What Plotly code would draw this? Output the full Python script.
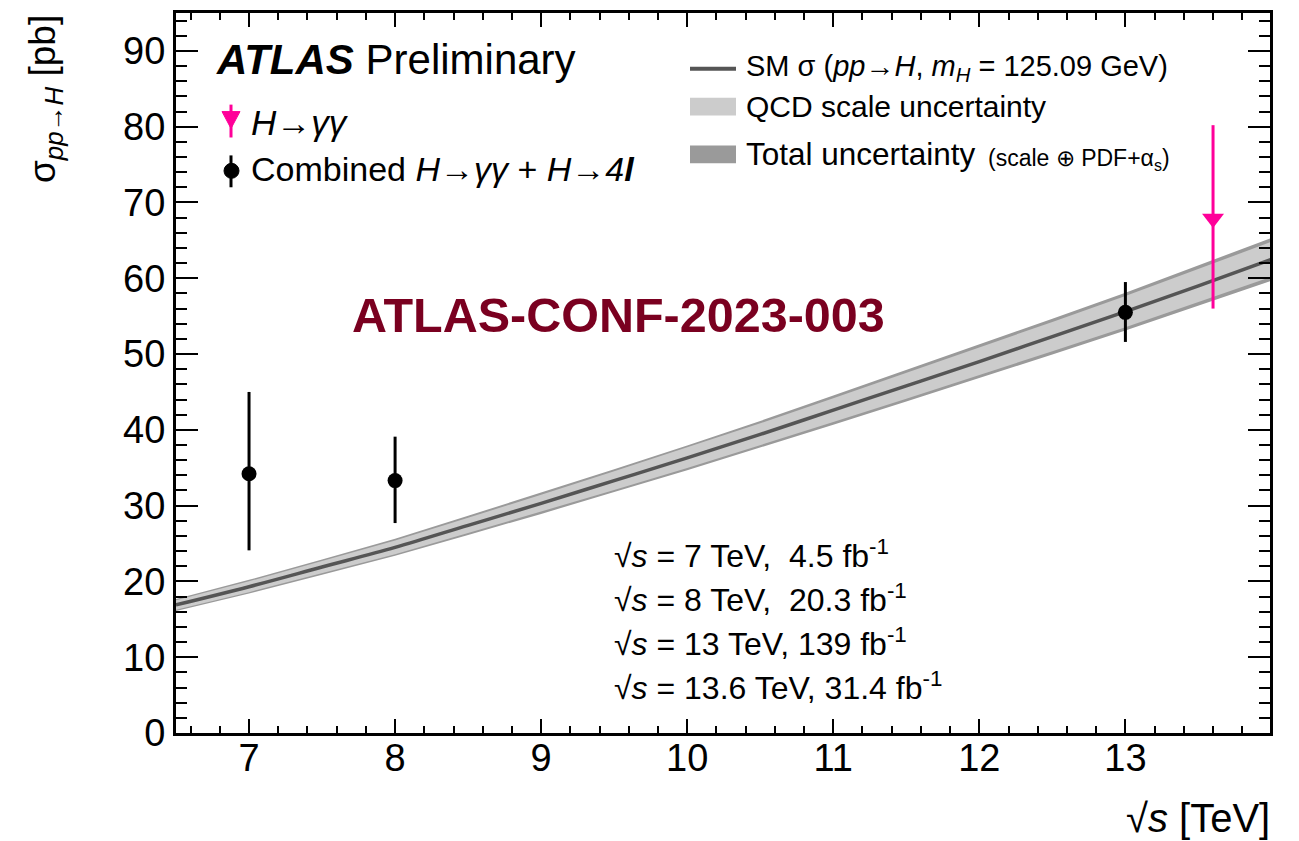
import plotly.graph_objects as go
import numpy as np

# ---------------- data ----------------
# SM prediction sigma(pp->H), mH = 125.09 GeV  [pb]
sm_sqrts = [6.5, 7.0, 7.5, 8.0, 8.5, 9.0, 9.5, 10.0, 10.5, 11.0, 11.5, 12.0, 12.5, 13.0, 13.5, 14.0]
sm_sigma = [16.9, 19.3, 21.9, 24.5, 27.4, 30.3, 33.3, 36.3, 39.4, 42.6, 45.8, 49.0, 52.3, 55.6, 59.0, 62.5]
# relative uncertainties [%]
scale_unc_pct = [3.7, 3.7, 3.7, 3.7, 3.7, 3.7, 3.7, 3.7, 3.7, 3.7, 3.7, 3.7, 3.7, 3.7, 3.7, 3.7]
total_unc_pct = [4.7, 4.7, 4.6, 4.6, 4.6, 4.6, 4.5, 4.5, 4.5, 4.5, 4.5, 4.5, 4.5, 4.5, 4.5, 4.5]

# Combined H->gg + H->4l measurements
comb_sqrts = [7.0, 8.0, 13.0]
comb_sigma = [34.2, 33.3, 55.5]
comb_err_up = [10.8, 5.8, 4.0]
comb_err_dn = [10.1, 5.6, 3.9]

# H->gamma gamma at 13.6 TeV
gg_sqrts = [13.6]
gg_sigma = [67.9]
gg_err_up = [12.3]
gg_err_dn = [11.9]

energy_lines = [
    "√<i>s</i> = 7 TeV,\u00a0\u00a04.5 fb<sup>-1</sup>",
    "√<i>s</i> = 8 TeV,\u00a0\u00a020.3 fb<sup>-1</sup>",
    "√<i>s</i> = 13 TeV, 139 fb<sup>-1</sup>",
    "√<i>s</i> = 13.6 TeV, 31.4 fb<sup>-1</sup>",
]

x_range = [6.5, 13.99]
y_range = [0, 95]

# ---------------- layout geometry (pixels) ----------------
W, H = 1299, 841
L, R, T, B = 176, 29, 10, 108
PW, PH = W - L - R, H - T - B


def px(x):
    return (x - L) / PW


def py(y):
    return (H - B - y) / PH


FONT = "Liberation Sans, Arial, Helvetica, sans-serif"
MAGENTA = "#ff0099"
DARK = "#555555"
LIGHT_BAND = "#cccccc"
DARK_BAND = "#9a9a9a"

sm = np.array(sm_sigma)
xs = np.array(sm_sqrts)
tot_hi = sm * (1 + np.array(total_unc_pct) / 100)
tot_lo = sm * (1 - np.array(total_unc_pct) / 100)
sc_hi = sm * (1 + np.array(scale_unc_pct) / 100)
sc_lo = sm * (1 - np.array(scale_unc_pct) / 100)

fig = go.Figure()

fig.add_trace(go.Scatter(
    x=np.concatenate([xs, xs[::-1]]), y=np.concatenate([tot_hi, tot_lo[::-1]]),
    fill="toself", fillcolor=DARK_BAND, line=dict(width=0), mode="lines",
    hoverinfo="skip", showlegend=False))
fig.add_trace(go.Scatter(
    x=np.concatenate([xs, xs[::-1]]), y=np.concatenate([sc_hi, sc_lo[::-1]]),
    fill="toself", fillcolor=LIGHT_BAND, line=dict(width=0), mode="lines",
    hoverinfo="skip", showlegend=False))
fig.add_trace(go.Scatter(
    x=xs, y=sm, mode="lines", line=dict(color=DARK, width=3.5, shape="spline"),
    showlegend=False))

fig.add_trace(go.Scatter(
    x=comb_sqrts, y=comb_sigma, mode="markers",
    marker=dict(symbol="circle", size=15, color="black"),
    error_y=dict(type="data", symmetric=False, array=comb_err_up, arrayminus=comb_err_dn,
                 thickness=3, width=0, color="black"),
    showlegend=False))

fig.add_trace(go.Scatter(
    x=gg_sqrts, y=gg_sigma, mode="markers",
    marker=dict(symbol="triangle-down", size=19, color=MAGENTA),
    error_y=dict(type="data", symmetric=False, array=gg_err_up, arrayminus=gg_err_dn,
                 thickness=3, width=0, color=MAGENTA),
    showlegend=False))

shapes = []
annotations = []


def text(xp, yp, s, size, color="black", xanchor="left", yanchor="middle", angle=0):
    annotations.append(dict(
        x=px(xp), y=py(yp), xref="paper", yref="paper", text=s, showarrow=False,
        xanchor=xanchor, yanchor=yanchor, textangle=angle,
        font=dict(family=FONT, size=size, color=color)))


# ATLAS label
text(214, 57, "<b><i>ATLAS</i></b> Preliminary", 42)

# left legend
shapes.append(dict(type="line", xref="paper", yref="paper",
                   x0=px(231), x1=px(231), y0=py(102), y1=py(135),
                   line=dict(color=MAGENTA, width=3)))
shapes.append(dict(type="path", xref="paper", yref="paper",
                   path=f"M {px(222)},{py(109)} L {px(240)},{py(109)} L {px(231)},{py(126)} Z",
                   fillcolor=MAGENTA, line=dict(color=MAGENTA, width=1)))
text(249, 120, "<i>H→γγ</i>", 35)

shapes.append(dict(type="line", xref="paper", yref="paper",
                   x0=px(231), x1=px(231), y0=py(153), y1=py(185),
                   line=dict(color="black", width=3)))
shapes.append(dict(type="circle", xref="paper", yref="paper",
                   x0=px(224), x1=px(239), y0=py(176), y1=py(161),
                   fillcolor="black", line=dict(color="black", width=1)))
text(249, 167, "Combined <i>H→γγ</i> + <i>H→4<b>l</b></i>", 34)

# right legend
shapes.append(dict(type="line", xref="paper", yref="paper",
                   x0=px(690), x1=px(736), y0=py(66), y1=py(66),
                   line=dict(color=DARK, width=4)))
shapes.append(dict(type="rect", xref="paper", yref="paper",
                   x0=px(690), x1=px(736), y0=py(113), y1=py(95),
                   fillcolor=LIGHT_BAND, line=dict(width=0)))
shapes.append(dict(type="rect", xref="paper", yref="paper",
                   x0=px(690), x1=px(736), y0=py(161), y1=py(143),
                   fillcolor=DARK_BAND, line=dict(width=0)))
text(744, 65, "SM σ (<i>pp→H</i>, <i>m<sub>H</sub></i> = 125.09 GeV)", 29)
text(744, 104, "QCD scale uncertainty", 30)
text(744, 152, "Total uncertainty", 31.5)
text(986, 157, "(scale ⊕ PDF+α<sub>s</sub>)", 23)

# conference note label
text(350, 313, "<b>ATLAS-CONF-2023-003</b>", 48.5, color="#7a0020")

# luminosity lines
for i, s in enumerate(energy_lines):
    text(612, 553 + i * 44.3, s, 32)

# axis titles
text(45, 10, "σ<sub><i>pp→H</i></sub> [pb]", 37, xanchor="center", yanchor="top", angle=-90)
text(1272, 818, "√<i>s</i> [TeV]", 40, xanchor="right", yanchor="middle")

fig.update_layout(
    width=W, height=H,
    margin=dict(l=L, r=R, t=T, b=B, pad=0),
    paper_bgcolor="white", plot_bgcolor="white",
    font=dict(family=FONT, color="black"),
    shapes=shapes, annotations=annotations,
    showlegend=False,
)
fig.update_xaxes(
    range=x_range, tickmode="linear", tick0=7, dtick=1,
    ticks="inside", ticklen=14, tickwidth=2, tickcolor="black",
    minor=dict(dtick=0.2, tick0=7, ticks="inside", ticklen=7, tickwidth=2, tickcolor="black", showgrid=False),
    showline=True, linewidth=3, linecolor="black", mirror="ticks",
    showgrid=False, zeroline=False, ticklabelstandoff=-11,
    tickfont=dict(size=38, family=FONT, color="black"),
)
fig.update_yaxes(
    range=y_range, tickmode="linear", tick0=0, dtick=10,
    ticks="inside", ticklen=22, tickwidth=2, tickcolor="black",
    minor=dict(dtick=2, tick0=0, ticks="inside", ticklen=11, tickwidth=2, tickcolor="black", showgrid=False),
    showline=True, linewidth=3, linecolor="black", mirror="ticks",
    showgrid=False, zeroline=False,
    tickfont=dict(size=38, family=FONT, color="black"),
)

fig.write_html("out.html")
